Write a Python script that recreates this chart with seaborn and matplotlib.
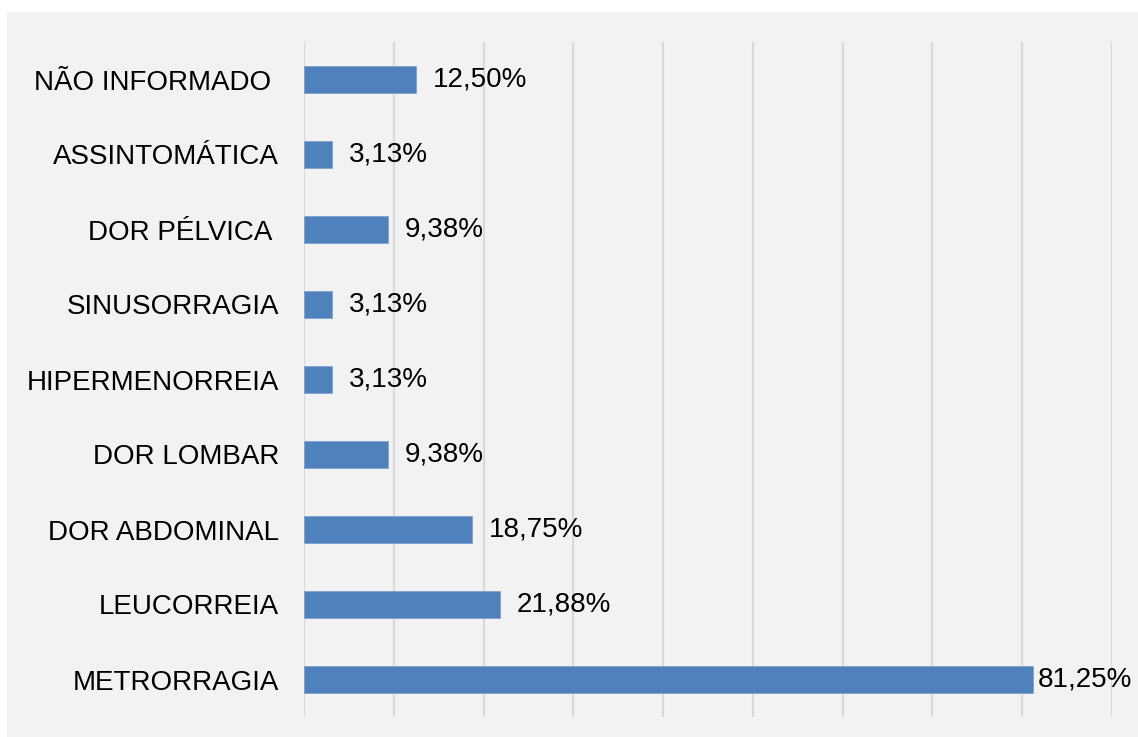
import matplotlib
matplotlib.use('Agg')
import matplotlib.pyplot as plt
import matplotlib.patches as mpatches
import seaborn as sns
import pandas as pd

# Data (top to bottom as shown)
categories = ['NÃO INFORMADO ', 'ASSINTOMÁTICA', 'DOR PÉLVICA ', 'SINUSORRAGIA',
              'HIPERMENORREIA', 'DOR LOMBAR', 'DOR ABDOMINAL', 'LEUCORREIA', 'METRORRAGIA']
values = [12.50, 3.13, 9.38, 3.13, 3.13, 9.38, 18.75, 21.88, 81.25]
value_labels = ['12,50%', '3,13%', '9,38%', '3,13%', '3,13%', '9,38%', '18,75%', '21,88%', '81,25%']

df = pd.DataFrame({'sintoma': categories, 'pct': values})

sns.set_style('white')
plt.rcParams['font.family'] = ['Liberation Sans', 'DejaVu Sans']

W, H = 1138, 737
fig = plt.figure(figsize=(W / 100, H / 100), dpi=100, facecolor='white')
# gray chart area panel, behind the axes
fig.patches.append(mpatches.Rectangle((7 / W, 0), 1 - 7 / W, 1 - 12 / H,
                                      transform=fig.transFigure, facecolor='#f2f2f2',
                                      edgecolor='none', zorder=-10))
ax = fig.add_axes([304 / W, 1 - 717 / H, (1112 - 304) / W, (717 - 42) / H])
ax.set_facecolor('#f2f2f2')

sns.barplot(data=df, x='pct', y='sintoma', orient='h', color='#4f81bd',
            width=0.36, saturation=1, ax=ax, zorder=3,
            edgecolor='#7fa2d0', linewidth=0.6)

ax.set_xlim(0, 90)
ax.set_xticks(range(0, 91, 10))
ax.set_xticklabels([])
ax.grid(axis='x', color='#d9d9d9', linewidth=1.5, zorder=0)
ax.set_axisbelow(True)
for s in ax.spines.values():
    s.set_visible(False)
ax.tick_params(axis='both', length=0)
ax.tick_params(axis='y', labelsize=20, pad=18, labelcolor='black')
ax.set_xlabel('')
ax.set_ylabel('')

for i, (v, lab) in enumerate(zip(values, value_labels)):
    off = 3 if v > 80 else 12
    ax.annotate(lab, (v, i), xytext=(off, 0), textcoords='offset points',
                va='center', ha='left', fontsize=20, color='black',
                annotation_clip=False)

fig.savefig('out.png', dpi=100, facecolor=fig.get_facecolor())
